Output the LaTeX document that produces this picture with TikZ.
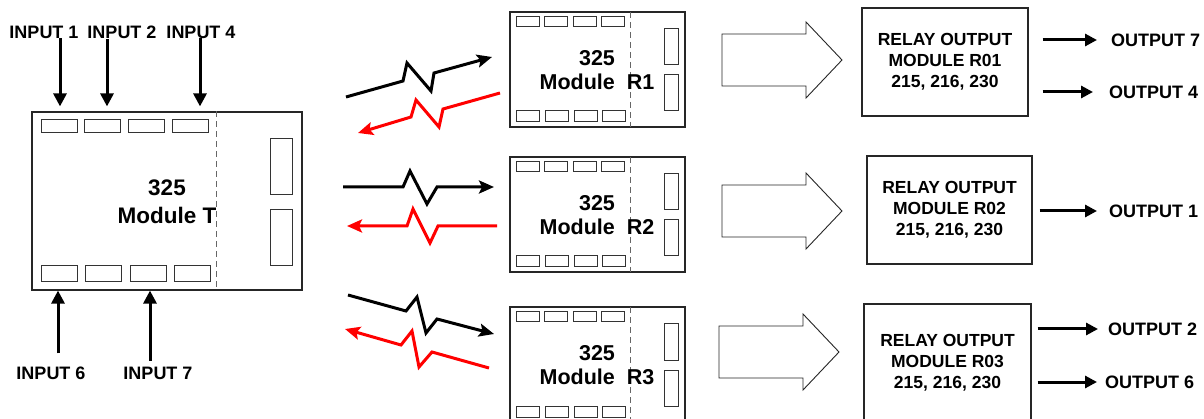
\documentclass[tikz,border=0pt]{standalone}
\usepackage{fontspec}
\setmainfont{Liberation Sans}
\usetikzlibrary{arrows.meta}

\begin{document}
\begin{tikzpicture}[x=1pt,y=-1pt,
    lbl/.style={font=\fontsize{18}{21}\selectfont\bfseries,inner sep=0pt},
    modtext/.style={font=\fontsize{21.5}{24}\selectfont\bfseries,align=center,inner sep=0pt},
    relaytext/.style={font=\fontsize{17.5}{21}\selectfont\bfseries,align=center},
    board/.style={draw=black!85,line width=1.2pt,inner sep=0pt},
    pad/.style={draw=black!80,line width=1pt},
    cut/.style={draw=black!60,line width=1pt,dash pattern=on 6pt off 4pt},
    inarr/.style={line width=3pt,-{Triangle[length=13pt,width=13pt]}},
    outarr/.style={line width=3pt,-{Triangle[length=12pt,width=12pt]}},
    bolt/.style={line width=3pt,-{Stealth[length=15pt,width=13pt,inset=3pt]}},
    hollow/.style={draw=black!85,line width=0.9pt,fill=white}]
  \useasboundingbox (0,0) rectangle (1204,419);
  \clip (0,0) rectangle (1204,419);

  % transmitter
  \node[board,minimum width=270pt,minimum height=178pt] (T) at (167,201) {};
  \draw[cut] (T.north -| 216,0) -- (T.south -| 216,0);
  \foreach \x in {41,84,128,172} \draw[pad] (\x,120) rectangle ++(36,13);
  \foreach \x in {41,85,130,174} \draw[pad] (\x,266) rectangle ++(36,16);
  \draw[pad] (270,139) rectangle (292,195);
  \draw[pad] (270,210) rectangle (292,266);
  \node[modtext,font=\fontsize{22.5}{28}\selectfont\bfseries] (Ttxt) at (167,202) {325\\Module T};

  \node[lbl] (in1) at (44,32) {INPUT 1};
  \node[lbl] (in2) at (122,32) {INPUT 2};
  \node[lbl] (in4) at (201,32) {INPUT 4};
  \node[lbl] (in6) at (51,373) {INPUT 6};
  \node[lbl] (in7) at (158,373) {INPUT 7};
  \draw[inarr,shorten >=5pt] (in1.south -| 60,0) -- (T.north -| 60,0);
  \draw[inarr,shorten >=5pt] (in2.south -| 107,0) -- (T.north -| 107,0);
  \draw[inarr,shorten >=5pt] (in4.south -| 200,0) -- (T.north -| 200,0);
  \draw[inarr,shorten <=13pt] (in6.north -| 58,0) -- (T.south -| 58,0);
  \draw[inarr,shorten <=6pt] (in7.north -| 150,0) -- (T.south -| 150,0);

  % receivers
  \foreach \ty/\n in {12/1,157/2,307/3}{
    \node[board,minimum width=175pt,minimum height=115pt] (R\n) at (597.5,\ty+57.5) {};
    \draw[cut] (630,\ty) -- (630,\ty+115);
    \foreach \x in {516,544,573,601} \draw[pad] (\x,\ty+5) rectangle ++(23,10);
    \foreach \x in {516,545,574,602} \draw[pad] (\x,\ty+99) rectangle ++(23,11);
    \draw[pad] (664,\ty+17) rectangle (678,\ty+53);
    \draw[pad] (664,\ty+63) rectangle (678,\ty+99);
    \node[modtext] (Rtxt\n) at (597,\ty+58) {325\\Module\ \ R\n};
  }

  % radio links
  \draw[bolt] (346,97) -- (403,81) -- (407,63) -- (431,91) -- (434,73) -- (492,57);
  \draw[bolt,red] (500,93) -- (443,109) -- (439,127) -- (416,100) -- (411,117) -- (358,133);
  \draw[bolt] (343,187) -- (403,187) -- (410,171) -- (427,204) -- (437,187) -- (494,187);
  \draw[bolt,red] (497,226) -- (438,226) -- (430,243) -- (413,209) -- (407,226) -- (347,226);
  \draw[bolt] (348,295) -- (406,311) -- (417,297) -- (426,333) -- (437,319) -- (494,334);
  \draw[bolt,red] (489,368) -- (432,352) -- (419,367) -- (412,331) -- (401,345) -- (345,329);

  % big arrows
  \foreach \y/\s in {60/0,211/0,352/-3}
    \draw[hollow] (722+\s,\y-26) -- (806+\s,\y-26) -- (806+\s,\y-38) -- (842+\s,\y)
      -- (806+\s,\y+38) -- (806+\s,\y+26) -- (722+\s,\y+26) -- cycle;

  % relay modules
  \node[board,relaytext,minimum width=166pt,minimum height=108pt] (rel1) at (945,62)
    {RELAY OUTPUT\\MODULE R01\\215, 216, 230};
  \node[board,relaytext,minimum width=165pt,minimum height=108pt] (rel2) at (949.5,210)
    {RELAY OUTPUT\\MODULE R02\\215, 216, 230};
  \node[board,relaytext,minimum width=167pt,minimum height=118pt] (rel3) at (947.5,363)
    {RELAY OUTPUT\\MODULE R03\\215, 216, 230};

  \node[lbl,anchor=west] (o7) at (1111,40) {OUTPUT 7};
  \node[lbl,anchor=west] (o4) at (1109,92) {OUTPUT 4};
  \node[lbl,anchor=west] (o1) at (1109,211) {OUTPUT 1};
  \node[lbl,anchor=west] (o2) at (1108,329) {OUTPUT 2};
  \node[lbl,anchor=west] (o6) at (1105,382) {OUTPUT 6};
  \draw[outarr,shorten <=14pt,shorten >=14pt] (o7.west -| rel1.east) -- (o7.west);
  \draw[outarr,shorten <=14pt,shorten >=16pt] (o4.west -| rel1.east) -- (o4.west);
  \draw[outarr,shorten <=7pt,shorten >=12pt] (o1.west -| rel2.east) -- (o1.west);
  \draw[outarr,shorten <=6pt,shorten >=10pt] (o2.west -| rel3.east) -- (o2.west);
  \draw[outarr,shorten <=6pt,shorten >=8pt] (o6.west -| rel3.east) -- (o6.west);
\end{tikzpicture}
\end{document}
